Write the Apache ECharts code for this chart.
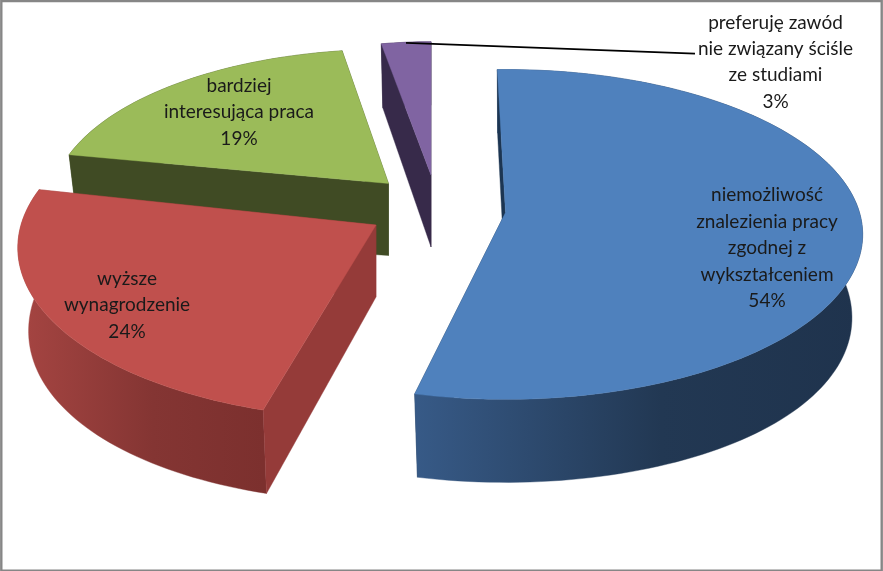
<!DOCTYPE html>
<html>
<head>
<meta charset="utf-8">
<script src="https://cdn.jsdelivr.net/npm/echarts@6/dist/echarts.min.js"></script>
<style>html,body{margin:0;padding:0;background:#fff}#c{width:883px;height:571px}</style>
</head>
<body>
<div id="c"></div>
<script>
const categories = [
  "niemożliwość\nznalezienia pracy\nzgodnej z\nwykształceniem",
  "wyższe\nwynagrodzenie",
  "bardziej\ninteresująca praca",
  "preferuję zawód\nnie związany ściśle\nze studiami"
];
const values = [54, 24, 19, 3];

// Drawing layout of each exploded slice (perspective projection of a circle)
const K = 0.133, DEPTH = 72, BOTTOM_SCALE = 0.97, SIDE_BULGE = 0.14;
const geometry = [
  {ax: 505.5, ay: 212.5, rx: 354, ry: 162, shift: -1.5, spread: 1},
  {ax: 376,   ay: 225,   rx: 355, ry: 168, shift: 1.7, spread: 1},
  {ax: 388.5, ay: 183.5, rx: 334, ry: 152, shift: 0.4, spread: 1.02},
  {ax: 431,   ay: 175,   rx: 300, ry: 151, shift: 0, spread: 1}
];
const palette = [
  {top: "#4f81bd", cut: "#1c3552", rim: ["#375a87", "#223853", "#1f334d"]},
  {top: "#c0504d", cut: "#953b39", rim: ["#a64542", "#843533", "#7c302e"]},
  {top: "#9bbb59", cut: "#404b24", rim: ["#404b24", "#404b24", "#404b24"]},
  {top: "#8064a2", cut: "#372a4a", rim: ["#372a4a", "#372a4a", "#372a4a"]}
];
const labelPos = [[767, 248], [127, 305], [239, 112], [775.5, 62]];
const leader = [[406, 42.8], [695, 53.6]];

const total = values.reduce((a, b) => a + b, 0);
function sliceAngles(i) {
  let start = 0;
  for (let j = 0; j < i; j++) start += values[j] / total * 360;
  const g = geometry[i];
  return [start + g.shift, start + g.shift + g.spread * values[i] / total * 360];
}
function project(g, deg, r, bottom) {
  const a = deg * Math.PI / 180;
  const u = r * Math.sin(a), v = -r * Math.cos(a), w = 1 - K * v;
  if (bottom) {
    return [g.ax + BOTTOM_SCALE * g.rx * u / w,
            g.ay + (g.ry * v + DEPTH * (1 + SIDE_BULGE * u * u)) / w];
  }
  return [g.ax + g.rx * u / w, g.ay + g.ry * v / w];
}
function arc(g, a0, a1, bottom) {
  const pts = [], n = Math.max(8, Math.ceil(Math.abs(a1 - a0) / 1.5));
  for (let k = 0; k <= n; k++) pts.push(project(g, a0 + (a1 - a0) * k / n, 1, bottom));
  return pts;
}
function renderSlice(params, api) {
  const i = params.dataIndex, g = geometry[i], c = palette[i];
  const base = (values.length - i) * 10;
  const [a0, a1] = sliceAngles(i);
  const apexT = project(g, 0, 0, false), apexB = project(g, 0, 0, true);
  const topArc = arc(g, a0, a1, false), botArc = arc(g, a0, a1, true);
  const xs = topArc.map(p => p[0]);
  const rimFill = new echarts.graphic.LinearGradient(
    Math.min(...xs), 0, Math.max(...xs), 0,
    [{offset: 0, color: c.rim[0]}, {offset: 0.55, color: c.rim[1]}, {offset: 1, color: c.rim[2]}], true);
  const poly = (points, fill, z) => ({
    type: "polygon", shape: {points}, z2: base + z, silent: true,
    style: {fill, stroke: fill, lineWidth: 0.4}
  });
  const children = [
    poly([apexT, topArc[topArc.length - 1], botArc[botArc.length - 1], apexB], c.cut, 0),
    poly(topArc.concat(botArc.slice().reverse()), rimFill, 1),
    poly([apexT, topArc[0], botArc[0], apexB], c.cut, 2),
    poly([apexT].concat(topArc), c.top, 3),
    {
      type: "text", x: labelPos[i][0], y: labelPos[i][1], z2: 200, silent: true,
      style: {
        text: categories[i] + "\n" + api.value(0) + "%",
        font: "19px Lato", fill: "#1a1a1a", align: "center",
        verticalAlign: "middle", lineHeight: 26.4
      }
    }
  ];
  if (i === values.length - 1) {
    children.push({
      type: "line", z2: 190, silent: true,
      shape: {x1: leader[0][0], y1: leader[0][1], x2: leader[1][0], y2: leader[1][1]},
      style: {stroke: "#000", lineWidth: 1.8}
    });
  }
  return {type: "group", children};
}

const chart = echarts.init(document.getElementById("c"), null, {renderer: "canvas"});
chart.setOption({
  animation: false,
  backgroundColor: "#ffffff",
  graphic: [{
    type: "rect", z: 100, silent: true,
    shape: {x: 1.3, y: 1, width: 880.4, height: 569.6},
    style: {fill: "none", stroke: "#868686", lineWidth: 2.4}
  }],
  series: [{
    type: "custom",
    coordinateSystem: "none",
    renderItem: renderSlice,
    silent: true,
    data: values.map((v, i) => ({name: categories[i], value: [v]}))
  }]
});
</script>
</body>
</html>
